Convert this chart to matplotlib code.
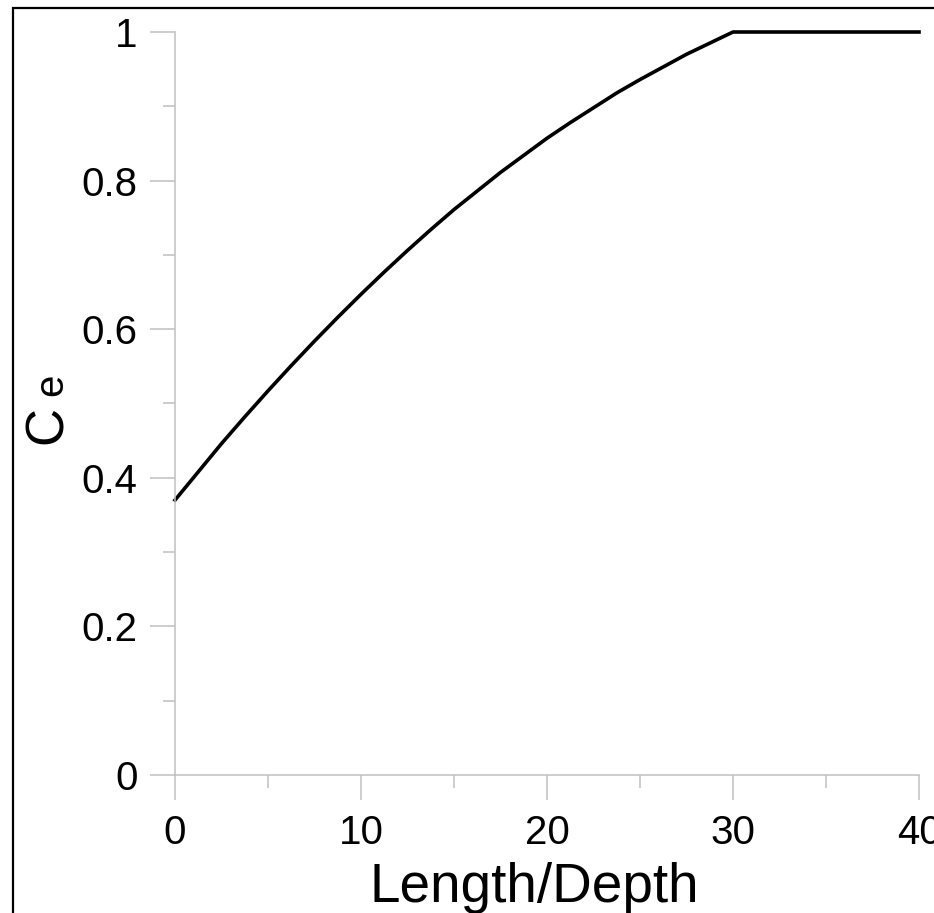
import numpy as np
import matplotlib
matplotlib.use('Agg')
import matplotlib.pyplot as plt
from matplotlib.patches import Rectangle
from matplotlib.ticker import MultipleLocator

plt.rc('font', **{'family': 'sans-serif', 'sans-serif': ['Liberation Sans'], 'size': 29})

# Ce vs Length/Depth
length_depth = [0, 1.25, 2.5, 3.75, 5, 6.25, 7.5, 8.75, 10, 11.25, 12.5, 13.75, 15,
                16.25, 17.5, 18.75, 20, 21.25, 22.5, 23.75, 25, 26.25, 27.5, 28.75, 30, 40]
ce = [0.370, 0.408, 0.446, 0.482, 0.517, 0.551, 0.584, 0.616, 0.647, 0.677, 0.706, 0.734, 0.761,
      0.786, 0.811, 0.834, 0.857, 0.878, 0.898, 0.918, 0.936, 0.953, 0.970, 0.985, 1.0, 1.0]

xticks = [0, 10, 20, 30, 40]
yticks = [0, 0.2, 0.4, 0.6, 0.8, 1]
ytick_labels = ['0', '0.2', '0.4', '0.6', '0.8', '1']

W, H = 934, 913
fig = plt.figure(figsize=(W / 100, H / 100), dpi=100)
ax = fig.add_axes([175 / W, 1 - 775 / H, 744 / W, 743 / H])

ax.plot(length_depth, ce, color='black', lw=2.6, clip_on=False)

ax.set_xlim(0, 40)
ax.set_ylim(0, 1)
ax.set_xticks(xticks)
ax.set_yticks(yticks)
ax.set_yticklabels(ytick_labels)
ax.xaxis.set_minor_locator(MultipleLocator(5))
ax.yaxis.set_minor_locator(MultipleLocator(0.1))

gray = '#c0c0c0'
for side in ['top', 'right']:
    ax.spines[side].set_visible(False)
for side in ['left', 'bottom']:
    ax.spines[side].set_color(gray)
    ax.spines[side].set_linewidth(1.1)
ax.tick_params(which='major', direction='out', length=18, width=1.1, color=gray)
ax.tick_params(which='minor', direction='out', length=9, width=1.1, color=gray)
ax.tick_params(axis='y', which='major', pad=9)
ax.tick_params(axis='x', which='major', pad=10)

ax.set_xlabel('Length/Depth', fontsize=39.5)
ax.xaxis.label.set_va('baseline')
ax.xaxis.set_label_coords((534.5 - 175) / 744, (775 - 902) / 743, transform=ax.transAxes)

# y label: big "C" followed by a smaller "e" on the same baseline
fig.text(62 / W, 1 - 444 / H, 'C', rotation=90, rotation_mode='anchor',
         ha='left', va='baseline', fontsize=38)
fig.text(62 / W, 1 - 396 / H, 'e', rotation=90, rotation_mode='anchor',
         ha='left', va='baseline', fontsize=29)

# frame around the figure (cut at right and bottom)
fig.patches.append(Rectangle((13 / W, -0.5), 2, 0.5 + 1 - 8 / H,
                             transform=fig.transFigure, fill=False,
                             edgecolor='black', lw=1.6))

fig.savefig('out.png', dpi=100)
